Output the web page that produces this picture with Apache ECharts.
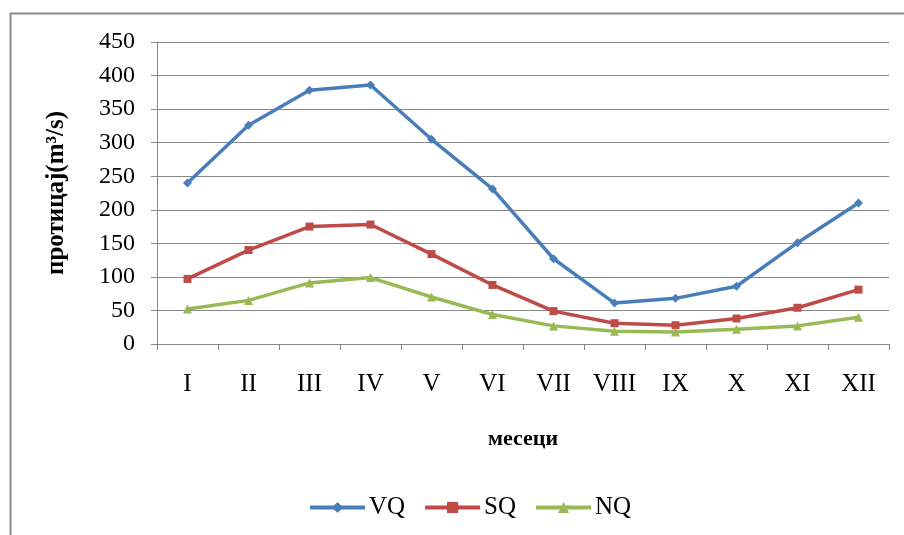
<!DOCTYPE html>
<html><head><meta charset="utf-8">
<script src="https://cdn.jsdelivr.net/npm/echarts@6/dist/echarts.min.js"></script>
<style>html,body{margin:0;padding:0;background:#fff}#c{width:904px;height:535px}</style>
</head><body><div id="c"></div>
<script>
const months = ['I','II','III','IV','V','VI','VII','VIII','IX','X','XI','XII'];
const VQ = [240, 326, 378, 386, 305, 231, 127, 61, 68, 86, 151, 210];
const SQ = [97, 140, 175, 178, 134, 88, 49, 31, 28, 38, 54, 81];
const NQ = [52, 65, 91, 99, 70, 44, 27, 19, 18, 22, 27, 40];
const yTicks = [0, 50, 100, 150, 200, 250, 300, 350, 400, 450];

const font = 'Liberation Serif';
const chart = echarts.init(document.getElementById('c'));
chart.setOption({
  animation: false,
  backgroundColor: '#fff',
  graphic: [{type:'rect', shape:{x:10.5,y:13.5,width:920,height:560}, style:{fill:'none', stroke:'#8a8a8a', lineWidth:2}, silent:true}],
  grid: {left:157, right:15, top:42, bottom:191},
  legend: {
    top: 490, left: 303, itemWidth: 55, itemHeight: 14, itemGap: 18,
    textStyle: {fontFamily: font, fontSize: 25, color:'#000', padding:[0,0,0,-1]},
    lineStyle: {width: 4},
    data: [
      {name:'VQ', lineStyle:{width:4}},
      {name:'SQ', lineStyle:{width:4}},
      {name:'NQ', lineStyle:{width:4}}
    ]
  },
  xAxis: {
    type:'category', data: months, boundaryGap: true,
    name: 'месеци', nameLocation:'middle', nameGap: 84,
    nameTextStyle:{fontFamily:font, fontSize:22, fontWeight:'bold', color:'#000'},
    axisLine:{lineStyle:{color:'#868686', width:1}},
    axisTick:{show:true, length:6, lineStyle:{color:'#868686'}},
    axisLabel:{fontFamily:font, fontSize:25, color:'#000', margin:28}
  },
  yAxis: {
    type:'value', min: yTicks[0], max: yTicks[yTicks.length-1], interval: 50,
    name: 'протицај(m³/s)', nameLocation:'middle', nameGap: 88, nameRotate: 90,
    nameTextStyle:{fontFamily:font, fontSize:25, fontWeight:'bold', color:'#000'},
    axisLine:{show:true, lineStyle:{color:'#868686', width:1}},
    axisTick:{show:true, length:6, lineStyle:{color:'#868686'}},
    splitLine:{lineStyle:{color:'#888', width:1}},
    axisLabel:{fontFamily:font, fontSize:24, color:'#000', margin:22}
  },
  series: [
    {name:'VQ', type:'line', data:VQ, symbol:'diamond', symbolSize:9,
     lineStyle:{color:'#4a7ebb', width:3.5}, itemStyle:{color:'#4a7ebb'}},
    {name:'SQ', type:'line', data:SQ, symbol:'rect', symbolSize:8,
     lineStyle:{color:'#be4b48', width:3.5}, itemStyle:{color:'#be4b48'}},
    {name:'NQ', type:'line', data:NQ, symbol:'triangle', symbolSize:9,
     lineStyle:{color:'#98b954', width:3.5}, itemStyle:{color:'#98b954'}}
  ]
});
</script></body></html>
